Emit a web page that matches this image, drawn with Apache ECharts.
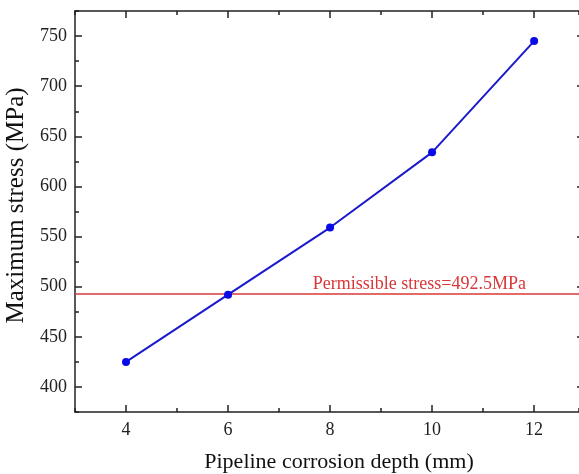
<!DOCTYPE html>
<html>
<head>
<meta charset="utf-8">
<script src="https://cdn.jsdelivr.net/npm/echarts@6/dist/echarts.min.js"></script>
<style>
  html, body { margin: 0; padding: 0; background: #fff; }
  #main { width: 579px; height: 474px; }
</style>
</head>
<body>
<div id="main"></div>
<script>
// corrosion depth (mm) vs max stress (MPa)
const depths = [4, 6, 8, 10, 12];
const stress = [425, 492, 559, 634, 745];
const allowStress = 492.5;
const xTicks = [4, 6, 8, 10, 12];
const yTicks = [400, 450, 500, 550, 600, 650, 700, 750];

const font = 'Liberation Serif';
const frame = { show: true, onZero: false, lineStyle: { color: '#222', width: 1.5 } };
// the original is cropped just before x = 13, so the right frame is off the picture
const xMin = 3, xMax = 12.88;

function majorAxis(pos, min, max, ticks, opts) {
    return Object.assign({
        type: 'value', position: pos, min: min, max: max,
        axisLine: frame,
        axisTick: { show: true, inside: true, length: 7, customValues: ticks, lineStyle: { color: '#222', width: 1.5 } },
        axisLabel: { show: false },
        splitLine: { show: false }
    }, opts || {});
}
function minorAxis(pos, min, max, step) {
    return {
        type: 'value', position: pos, min: min, max: max, interval: step,
        axisLine: { show: false },
        axisTick: { show: true, inside: true, length: 4, lineStyle: { color: '#222', width: 1.5 } },
        axisLabel: { show: false },
        splitLine: { show: false }
    };
}

let chart = echarts.init(document.getElementById('main'));
chart.setOption({
    animation: false,
    grid: { left: 75, top: 11, right: 0, bottom: 62, outerBoundsMode: 'none' },
    xAxis: [
        majorAxis('bottom', xMin, xMax, xTicks, {
            name: 'Pipeline corrosion depth (mm)',
            nameLocation: 'middle', nameGap: 39,
            nameTextStyle: { fontFamily: font, fontSize: 22, color: '#111', padding: [0, 0, 0, 24] },
            axisLabel: { show: true, customValues: xTicks, margin: 9, fontFamily: font, fontSize: 18, color: '#222' }
        }),
        minorAxis('bottom', xMin, xMax, 2),
        majorAxis('top', xMin, xMax, xTicks),
        minorAxis('top', xMin, xMax, 2)
    ],
    yAxis: [
        majorAxis('left', 375, 775, yTicks, {
            name: 'Maximum stress (MPa)',
            nameLocation: 'middle', nameGap: 32,
            nameTextStyle: { fontFamily: font, fontSize: 25, color: '#111', padding: [0, 0, 0, 12] },
            axisLabel: { show: true, customValues: yTicks, margin: 8, fontFamily: font, fontSize: 18, color: '#222' }
        }),
        minorAxis('left', 375, 775, 50),
        // only the tips of the right frame's major ticks show at the edge
        majorAxis('right', 375, 775, yTicks, {
            axisLine: { show: false },
            axisTick: { show: true, inside: true, length: 2, customValues: yTicks, lineStyle: { color: '#222', width: 1.5 } }
        })
    ],
    series: [{
        type: 'line',
        data: depths.map((d, i) => [d, stress[i]]),
        symbol: 'circle',
        symbolSize: 8,
        lineStyle: { color: '#1a1acc', width: 2 },
        itemStyle: { color: '#0a0ae6' },
        markLine: {
            silent: true,
            symbol: 'none',
            lineStyle: { color: '#d9383a', width: 1.5, type: 'solid' },
            label: {
                show: true,
                position: 'insideEndTop',
                distance: [53, 1],
                formatter: 'Permissible stress=' + allowStress + 'MPa',
                fontFamily: font, fontSize: 18, color: '#d9383a'
            },
            data: [{ yAxis: allowStress }]
        },
        z: 5
    }]
});
</script>
</body>
</html>
